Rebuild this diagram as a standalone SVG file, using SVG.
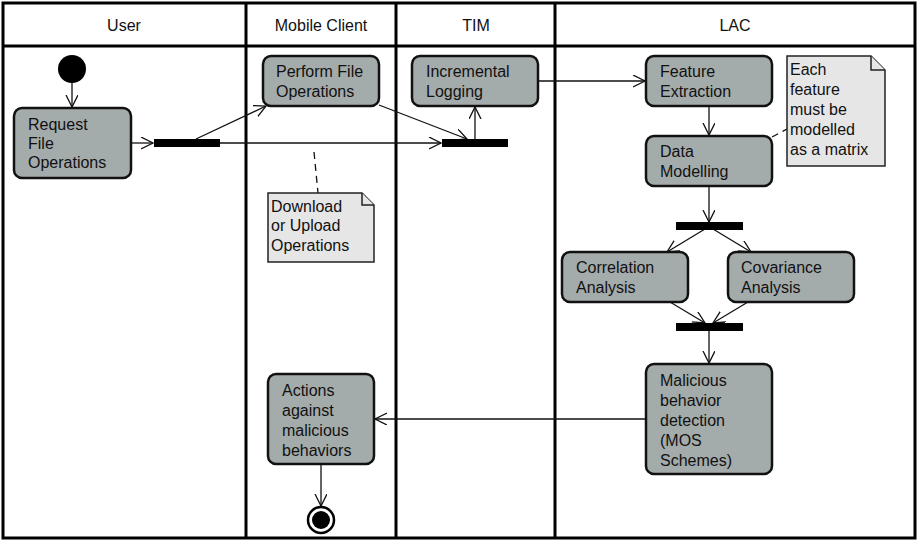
<svg xmlns="http://www.w3.org/2000/svg" width="918" height="541" viewBox="0 0 918 541">
<defs>
<style>
.frame{fill:none;stroke:#000;stroke-width:3}
.box{fill:#a4abab;stroke:#111;stroke-width:2.5}
.note{fill:#e6e6e6;stroke:#222;stroke-width:1.5}
.bar{fill:#000}
.t{font-family:"Liberation Sans",Arial,sans-serif;font-size:16px;fill:#111}
.h{font-family:"Liberation Sans",Arial,sans-serif;font-size:16px;fill:#111;text-anchor:middle}
.c{fill:none;stroke:#111;stroke-width:1.3}
.d{fill:none;stroke:#111;stroke-width:1.3;stroke-dasharray:7,5}
</style>
<marker id="arr" markerWidth="14" markerHeight="14" refX="12" refY="6" orient="auto" markerUnits="userSpaceOnUse">
<path d="M0,0 L12,6 L0,12" fill="none" stroke="#111" stroke-width="1.3"/>
</marker>
</defs>
<rect width="918" height="541" fill="#fff"/>
<g id="lanes">
<rect class="frame" x="3" y="3" width="912" height="535"/>
<line class="frame" x1="3" y1="46" x2="915" y2="46"/>
<line class="frame" x1="246" y1="3" x2="246" y2="538"/>
<line class="frame" x1="396" y1="3" x2="396" y2="538"/>
<line class="frame" x1="555" y1="3" x2="555" y2="538"/>
<text class="h" x="124" y="31">User</text>
<text class="h" x="321" y="31">Mobile Client</text>
<text class="h" x="476" y="31">TIM</text>
<text class="h" x="735" y="31">LAC</text>
</g>
<g id="connectors">
<line class="c" x1="72" y1="83" x2="72" y2="107" marker-end="url(#arr)"/>
<line class="c" x1="131" y1="143" x2="153" y2="143" marker-end="url(#arr)"/>
<line class="c" x1="196" y1="139" x2="266" y2="106" marker-end="url(#arr)"/>
<line class="c" x1="220" y1="143" x2="441" y2="143" marker-end="url(#arr)"/>
<line class="c" x1="379" y1="105" x2="467" y2="139" marker-end="url(#arr)"/>
<line class="c" x1="475" y1="139" x2="475" y2="107" marker-end="url(#arr)"/>
<line class="c" x1="538" y1="81" x2="645" y2="81" marker-end="url(#arr)"/>
<line class="c" x1="709" y1="106" x2="709" y2="135" marker-end="url(#arr)"/>
<line class="c" x1="709" y1="186" x2="709" y2="222" marker-end="url(#arr)"/>
<line class="c" x1="705" y1="229" x2="667" y2="252" marker-end="url(#arr)"/>
<line class="c" x1="713" y1="229" x2="751" y2="252" marker-end="url(#arr)"/>
<line class="c" x1="670" y1="302" x2="705" y2="323" marker-end="url(#arr)"/>
<line class="c" x1="748" y1="302" x2="713" y2="323" marker-end="url(#arr)"/>
<line class="c" x1="709" y1="330" x2="709" y2="363" marker-end="url(#arr)"/>
<line class="c" x1="646" y1="419" x2="375" y2="419" marker-end="url(#arr)"/>
<line class="c" x1="321" y1="464" x2="321" y2="506" marker-end="url(#arr)"/>
<line class="d" x1="314" y1="152" x2="318" y2="193"/>
<line class="d" x1="772" y1="137" x2="787" y2="129"/>
</g>
<g id="start"><circle cx="72" cy="69" r="14" fill="#000"/></g>
<g id="request"><rect class="box" x="14" y="108" width="117" height="70" rx="8"/>
<text class="t" x="28" y="130">Request</text><text class="t" x="28" y="149">File</text><text class="t" x="28" y="168">Operations</text></g>
<g id="fork1"><rect class="bar" x="154" y="139" width="66" height="8"/></g>
<g id="perform"><rect class="box" x="263" y="56" width="116" height="50" rx="8"/>
<text class="t" x="276" y="77">Perform File</text><text class="t" x="276" y="97">Operations</text></g>
<g id="incremental"><rect class="box" x="412" y="56" width="126" height="50" rx="8"/>
<text class="t" x="426" y="77">Incremental</text><text class="t" x="426" y="97">Logging</text></g>
<g id="join1"><rect class="bar" x="442" y="139" width="66" height="8"/></g>
<g id="feature"><rect class="box" x="646" y="56" width="126" height="50" rx="8"/>
<text class="t" x="660" y="77">Feature</text><text class="t" x="660" y="97">Extraction</text></g>
<g id="datamodel"><rect class="box" x="646" y="136" width="126" height="50" rx="8"/>
<text class="t" x="660" y="157">Data</text><text class="t" x="660" y="177">Modelling</text></g>
<g id="fork2"><rect class="bar" x="676" y="222" width="67" height="8"/></g>
<g id="correlation"><rect class="box" x="562" y="252" width="126" height="50" rx="8"/>
<text class="t" x="576" y="273">Correlation</text><text class="t" x="576" y="293">Analysis</text></g>
<g id="covariance"><rect class="box" x="728" y="252" width="126" height="50" rx="8"/>
<text class="t" x="741" y="273">Covariance</text><text class="t" x="741" y="293">Analysis</text></g>
<g id="join2"><rect class="bar" x="676" y="323" width="67" height="8"/></g>
<g id="malicious"><rect class="box" x="646" y="364" width="126" height="110" rx="8"/>
<text class="t" x="660" y="386">Malicious</text><text class="t" x="660" y="406">behavior</text><text class="t" x="660" y="426">detection</text><text class="t" x="660" y="446">(MOS</text><text class="t" x="660" y="466">Schemes)</text></g>
<g id="actions"><rect class="box" x="268" y="374" width="106" height="90" rx="8"/>
<text class="t" x="282" y="396">Actions</text><text class="t" x="282" y="416">against</text><text class="t" x="282" y="436">malicious</text><text class="t" x="282" y="456">behaviors</text></g>
<g id="end"><circle cx="321" cy="520" r="13" fill="#fff" stroke="#000" stroke-width="2.5"/><circle cx="321" cy="520" r="9" fill="#000"/></g>
<g id="note1"><path class="note" d="M268,193 H362 L374,205 V262 H268 Z"/><path class="note" d="M362,193 V205 H374"/>
<text class="t" x="271" y="212">Download</text><text class="t" x="271" y="231">or Upload</text><text class="t" x="271" y="251">Operations</text></g>
<g id="note2"><path class="note" d="M787,56 H871 L885,70 V166 H787 Z"/><path class="note" d="M871,56 V70 H885"/>
<text class="t" x="790" y="75">Each</text><text class="t" x="790" y="95">feature</text><text class="t" x="790" y="115">must be</text><text class="t" x="790" y="135">modelled</text><text class="t" x="790" y="155">as a matrix</text></g>
</svg>
